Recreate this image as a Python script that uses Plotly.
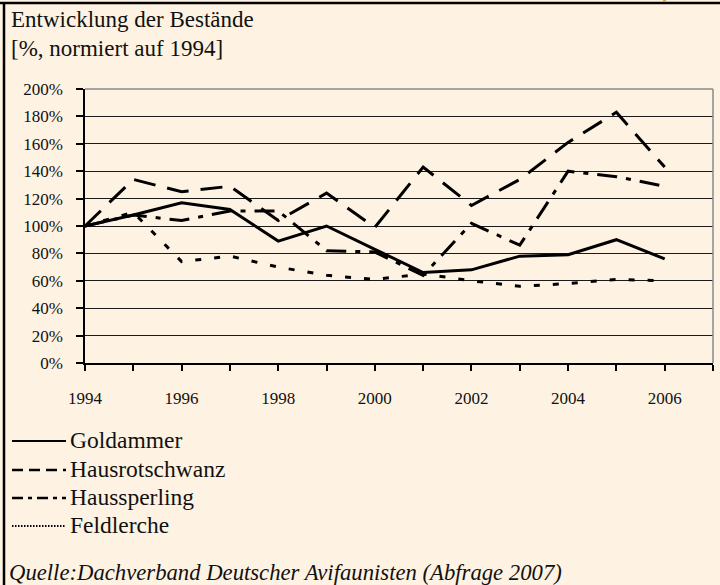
import plotly.graph_objects as go

# ---------------- data ----------------
years = list(range(1994, 2007))
goldammer = [100, 108, 117, 112, 89, 100, 83, 66, 68, 78, 79, 90, 76]
hausrotschwanz = [100, 134, 125, 129, 104, 124, 99, 143, 115, 134, 161, 183, 143]
haussperling = [100, 108, 104, 111, 111, 82, 81, 64, 102, 86, 140, 136, 129]
feldlerche = [100, 110, 74, 78, 70, 64, 61, 65, 60, 56, 58, 61, 60]
series_names = ["Goldammer", "Hausrotschwanz", "Haussperling", "Feldlerche"]

x_tick_years = list(range(1994, 2008))
x_label_years = [1994, 1996, 1998, 2000, 2002, 2004, 2006]
y_ticks = list(range(0, 201, 20))
title_lines = ["Entwicklung der Bestände", "[%, normiert auf 1994]"]
source_text = "Quelle:Dachverband Deutscher Avifaunisten (Abfrage 2007)"

# ---------------- styling ----------------
W, H = 720, 585
ML, MR, MT, MB = 85, 7, 89, 222
PW, PH = W - ML - MR, H - MT - MB
BG = "#FEF3E2"
FONT = '"Liberation Serif", "Times New Roman", serif'
INK = "#111111"

chart_dash = ["solid", "22px,12px", "20px,9px,5px,9px", "6px,13px"]
legend_dash = ["solid", "11px,6px", "11px,5px,4px,5px", "1.5px,1.5px"]
legend_width = [2.2, 2.6, 2.6, 1.8]


def px2x(px):
    return (px - ML) / PW


def py2y(py):
    return (H - MB - py) / PH


values = [goldammer, hausrotschwanz, haussperling, feldlerche]

fig = go.Figure()
for name, vals, dash in zip(series_names, values, chart_dash):
    fig.add_trace(go.Scatter(
        x=years, y=vals, mode="lines", name=name,
        line=dict(color="black", width=3, dash=dash),
        showlegend=False,
    ))

shapes = []
annotations = []

# plot-area border (top and right, gray)
shapes.append(dict(type="line", xref="paper", yref="paper", x0=0, x1=1, y0=1, y1=1,
                   line=dict(color="#8a8a8a", width=1.5), layer="above"))
shapes.append(dict(type="line", xref="paper", yref="paper", x0=1, x1=1, y0=0, y1=1,
                   line=dict(color="#8a8a8a", width=1.5), layer="above"))

# outer frame (top and left, black) and small orange mark
shapes.append(dict(type="line", xref="paper", yref="paper", x0=px2x(0), x1=px2x(W),
                   y0=py2y(3), y1=py2y(3), line=dict(color="black", width=2.5)))
shapes.append(dict(type="line", xref="paper", yref="paper", x0=px2x(4), x1=px2x(4),
                   y0=py2y(2), y1=py2y(H), line=dict(color="black", width=2.5)))
shapes.append(dict(type="rect", xref="paper", yref="paper", x0=px2x(663), x1=px2x(666),
                   y0=py2y(2), y1=py2y(0), line=dict(width=0), fillcolor="#F2A11F"))

# title lines
for i, t in enumerate(title_lines):
    annotations.append(dict(text=t, xref="paper", yref="paper", x=px2x(9), y=py2y(20 + 28 * i),
                            xanchor="left", yanchor="middle", showarrow=False,
                            font=dict(family=FONT, size=23, color=INK)))

# legend (drawn manually to mimic the reference layout)
legend_rows = [441, 470, 498, 526]
for name, dash, lw, row in zip(series_names, legend_dash, legend_width, legend_rows):
    shapes.append(dict(type="line", xref="paper", yref="paper",
                       x0=px2x(12), x1=px2x(66), y0=py2y(row), y1=py2y(row),
                       line=dict(color="black", width=lw, dash=dash)))
    annotations.append(dict(text=name, xref="paper", yref="paper", x=px2x(68), y=py2y(row - 1),
                            xanchor="left", yanchor="middle", showarrow=False,
                            font=dict(family=FONT, size=23.5, color=INK)))

annotations.append(dict(text="<i>" + source_text + "</i>", xref="paper", yref="paper",
                        x=px2x(7), y=py2y(572), xanchor="left", yanchor="middle", showarrow=False,
                        font=dict(family=FONT, size=22.7, color=INK)))

x_ticktext = [str(y) if y in x_label_years else "" for y in x_tick_years]

fig.update_layout(
    width=W, height=H,
    margin=dict(l=ML, r=MR, t=MT, b=MB, pad=0),
    paper_bgcolor=BG, plot_bgcolor=BG,
    font=dict(family=FONT, size=17, color=INK),
    shapes=shapes, annotations=annotations,
    xaxis=dict(range=[1994, 2007], tickvals=x_tick_years, ticktext=x_ticktext,
               ticks="outside", ticklen=6, tickwidth=1.5, tickcolor="black",
               showline=True, linecolor="black", linewidth=1.5,
               showgrid=False, zeroline=False, ticklabelstandoff=13,
               tickfont=dict(family=FONT, size=17, color=INK)),
    yaxis=dict(range=[0, 200], tickvals=y_ticks, ticktext=[f"{v}%" for v in y_ticks],
               ticks="outside", ticklen=7, tickwidth=1.5, tickcolor="black",
               showline=True, linecolor="black", linewidth=1.5,
               showgrid=True, gridcolor="#1a1a1a", gridwidth=1,
               zeroline=False, ticklabelstandoff=10,
               tickfont=dict(family=FONT, size=17, color=INK)),
)

fig.write_html("out.html",
               config={"displayModeBar": False},
               post_script="document.documentElement.style.overflow='hidden';"
                           "document.body.style.overflow='hidden';"
                           "document.body.style.margin='0';document.body.style.padding='0';"
                           "document.body.style.background='" + BG + "';")
